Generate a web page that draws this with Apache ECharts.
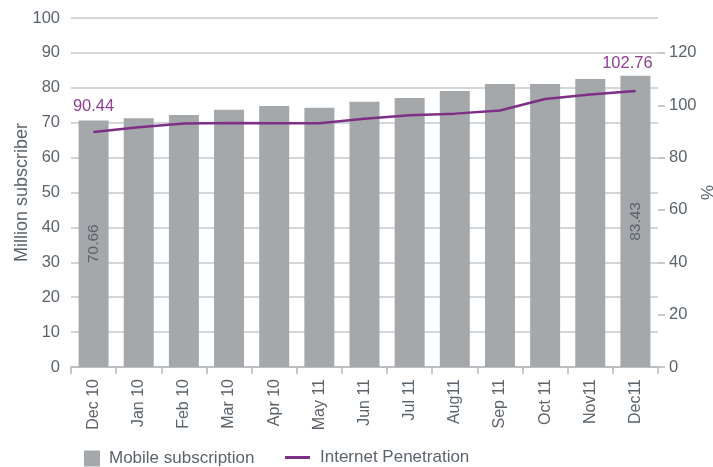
<!DOCTYPE html>
<html>
<head>
<meta charset="utf-8">
<script src="https://cdn.jsdelivr.net/npm/echarts@6/dist/echarts.min.js"></script>
<style>
  html, body { margin: 0; padding: 0; background: #fff; }
  #chart { width: 713px; height: 467px; }
</style>
</head>
<body>
<div id="chart"></div>
<script>
const months = ["Dec 10", "Jan 10", "Feb 10", "Mar 10", "Apr 10", "May 11", "Jun 11",
  "Jul 11", "Aug11", "Sep 11", "Oct 11", "Nov11", "Dec11"];
// million subscribers (left axis)
const mobileSubs = [70.66, 71.3, 72.2, 73.7, 74.8, 74.3, 76.0, 77.1, 79.1, 81.1, 81.1, 82.5, 83.43];
// penetration % (right axis)
const penetration = [89.8, 91.6, 93.0, 93.2, 93.1, 93.1, 94.8, 96.2, 96.8, 98.0, 102.4, 104.1, 105.4];
const mobileLabels = ["70.66", "", "", "", "", "", "", "", "", "", "", "", "83.43"];
const penetrationLabels = ["90.44", "", "", "", "", "", "", "", "", "", "", "", "102.76"];
const rightTicks = [0, 20, 40, 60, 80, 100, 120];

const textColor = "#5b636b";
const purple = "#7e2f86";
const font = "Liberation Sans";

const chart = echarts.init(document.getElementById("chart"));

const lineData = penetration.map((v, i) => {
  const item = { value: v };
  if (i === months.length - 1) {
    item.label = { offset: [-8, -3] };
  }
  return item;
});

chart.setOption({
  animation: false,
  textStyle: { fontFamily: font },
  grid: { left: 71, right: 55, top: 18, bottom: 100, outerBoundsMode: "none", containLabel: false },
  legend: [
    {
      data: ["Mobile subscription"],
      left: 79, top: 445,
      icon: "rect",
      itemWidth: 16, itemHeight: 16,
      textStyle: { color: textColor, fontSize: 17, fontFamily: font, padding: [0, 0, 0, 4] }
    },
    {
      data: [{ name: "Internet Penetration", icon: "rect" }],
      left: 280, top: 444,
      itemWidth: 25, itemHeight: 3,
      textStyle: { color: textColor, fontSize: 17, fontFamily: font, padding: [0, 0, 0, 5] }
    }
  ],
  xAxis: {
    type: "category",
    data: months,
    axisLine: { lineStyle: { color: "#b4b7ba", width: 1.5 } },
    axisTick: { show: true, length: 7, lineStyle: { color: "#b4b7ba", width: 1.5 } },
    axisLabel: { rotate: 90, color: textColor, fontSize: 16, margin: 12, interval: 0 }
  },
  yAxis: [
    {
      type: "value",
      min: 0, max: 100, interval: 10,
      name: "Million subscriber",
      nameLocation: "middle",
      nameGap: 40,
      nameMoveOverlap: false,
      nameTextStyle: { color: textColor, fontSize: 18 },
      axisLine: { show: false },
      axisTick: { show: false },
      axisLabel: { color: textColor, fontSize: 16.5, margin: 11 },
      splitLine: { lineStyle: { color: "#c6c8ca", width: 1.5 } }
    },
    {
      type: "value",
      min: 0, max: 400 / 3,
      name: "%",
      nameLocation: "middle",
      nameGap: 42,
      nameMoveOverlap: false,
      nameRotate: 90,
      nameTextStyle: { color: textColor, fontSize: 17 },
      axisLine: { show: false },
      axisTick: { show: true, length: 7, customValues: rightTicks,
        lineStyle: { color: "#b4b7ba", width: 1.5 } },
      axisLabel: { color: textColor, fontSize: 16.5, margin: 11, customValues: rightTicks },
      splitLine: { show: false }
    }
  ],
  series: [
    {
      name: "Mobile subscription",
      type: "bar",
      yAxisIndex: 0,
      data: mobileSubs,
      barWidth: 30,
      itemStyle: { color: "#a5a8ab" },
      label: {
        show: true,
        position: "inside",
        rotate: 90,
        color: textColor,
        fontSize: 15.5,
        formatter: (p) => mobileLabels[p.dataIndex]
      }
    },
    {
      name: "Internet Penetration",
      type: "line",
      yAxisIndex: 1,
      data: lineData,
      symbol: "circle",
      symbolSize: 1,
      showSymbol: true,
      itemStyle: { color: purple },
      lineStyle: { color: purple, width: 2.5 },
      label: {
        show: true,
        position: "top",
        distance: 16,
        color: "#8e3e93",
        fontSize: 16.5,
        formatter: (p) => penetrationLabels[p.dataIndex]
      }
    }
  ]
});
</script>
</body>
</html>
